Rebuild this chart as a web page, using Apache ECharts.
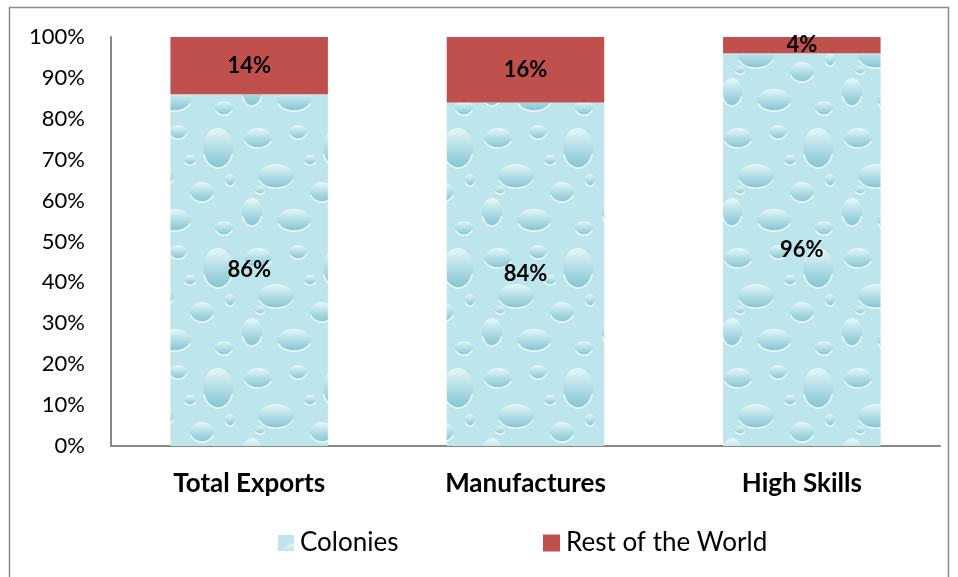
<!DOCTYPE html>
<html>
<head>
<meta charset="utf-8">
<script src="https://cdn.jsdelivr.net/npm/echarts@6/dist/echarts.min.js"></script>
<style>
  html, body { margin: 0; padding: 0; background: #fff; }
  #chart { width: 958px; height: 577px; }
</style>
</head>
<body>
<div id="chart"></div>
<script>
const categories = ['Total Exports', 'Manufactures', 'High Skills'];
const colonies = [86, 84, 96];
const restOfWorld = [14, 16, 4];
const yTicks = [0, 10, 20, 30, 40, 50, 60, 70, 80, 90, 100];

const FONT = 'Lato, "Liberation Sans", sans-serif';

// water-droplet-ish texture for the Colonies fill
function dropletPattern() {
  const c = document.createElement('canvas');
  c.width = 120; c.height = 120;
  const g = c.getContext('2d');
  g.fillStyle = '#bde6ec';
  g.fillRect(0, 0, 120, 120);
  const drops = [[18, 18, 14, 10], [58, 12, 9, 7], [98, 28, 15, 20], [36, 56, 18, 12],
                 [82, 72, 12, 10], [12, 92, 10, 14], [54, 100, 17, 11], [104, 108, 9, 7],
                 [70, 40, 6, 5], [20, 70, 5, 4], [110, 60, 5, 6]];
  drops.forEach(([x, y, rx, ry]) => {
    const grd = g.createLinearGradient(x, y - ry, x, y + ry);
    grd.addColorStop(0, '#e8f8fa');
    grd.addColorStop(0.5, '#b0dde5');
    grd.addColorStop(1, '#86c6d2');
    g.fillStyle = grd;
    g.beginPath(); g.ellipse(x, y, rx, ry, 0, 0, Math.PI * 2); g.fill();
    g.strokeStyle = 'rgba(255,255,255,0.8)';
    g.lineWidth = 1.5;
    g.beginPath(); g.ellipse(x, y, rx, ry, 0, Math.PI * 0.1, Math.PI * 0.9); g.stroke();
  });
  return c;
}

const chart = echarts.init(document.getElementById('chart'), null, { renderer: 'canvas' });
const pattern = { image: dropletPattern(), repeat: 'repeat' };

const legendText = { fontFamily: FONT, fontSize: 26, color: '#000', padding: [0, 0, 0, 1] };

chart.setOption({
  backgroundColor: '#fff',
  animation: false,
  graphic: [{
    type: 'rect', silent: true,
    shape: { x: 9.5, y: 7.5, width: 939, height: 600 },
    style: { fill: 'none', stroke: '#8c8c8c', lineWidth: 1.5 }
  }],
  grid: { left: 111, right: 18, top: 37, bottom: 131, containLabel: false },
  legend: [
    { data: ['Colonies'], top: 525, left: 273, itemWidth: 16, itemHeight: 16, icon: 'rect', textStyle: legendText },
    { data: ['Rest of the World'], top: 525, left: 538, itemWidth: 17, itemHeight: 17, icon: 'rect', textStyle: legendText }
  ],
  xAxis: {
    type: 'category',
    data: categories,
    axisLine: { lineStyle: { color: '#878787', width: 2 } },
    axisTick: { show: false },
    axisLabel: { fontFamily: FONT, fontSize: 26, fontWeight: 'bold', color: '#000', margin: 25 }
  },
  yAxis: {
    type: 'value',
    min: 0, max: 100, interval: 10,
    axisLine: { show: true, lineStyle: { color: '#878787', width: 2 } },
    axisTick: { show: false },
    splitLine: { show: false },
    axisLabel: {
      fontFamily: FONT, fontSize: 22, color: '#000', margin: 26,
      formatter: v => yTicks.includes(v) ? v + '%' : ''
    }
  },
  series: [
    {
      name: 'Colonies', type: 'bar', stack: 'total', barWidth: '57%',
      data: colonies,
      itemStyle: { color: pattern },
      label: { show: true, position: 'inside', formatter: '{c}%', fontFamily: FONT, fontSize: 22, fontWeight: 'bold', color: '#000' }
    },
    {
      name: 'Rest of the World', type: 'bar', stack: 'total', barWidth: '57%',
      data: restOfWorld,
      itemStyle: { color: '#c0504d' },
      label: { show: true, position: 'inside', formatter: '{c}%', fontFamily: FONT, fontSize: 22, fontWeight: 'bold', color: '#000' }
    }
  ]
});
</script>
</body>
</html>
